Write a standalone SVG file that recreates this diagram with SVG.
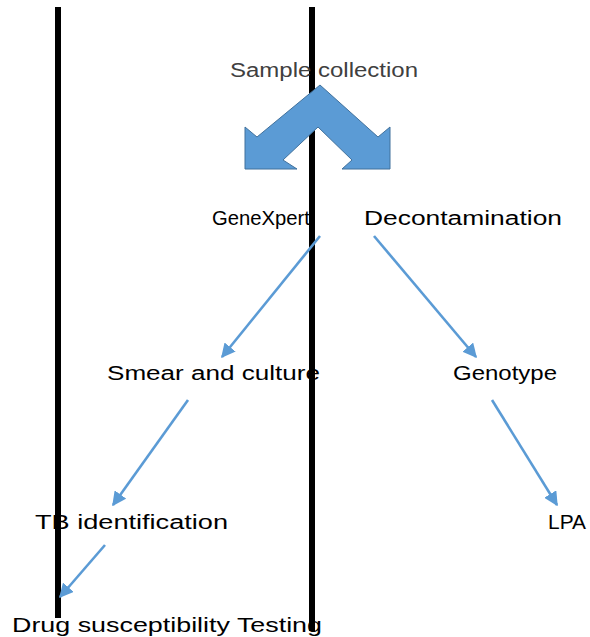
<svg xmlns="http://www.w3.org/2000/svg" width="590" height="637" viewBox="0 0 590 637">
<defs>
<marker id="ah" viewBox="0 0 10 10" refX="9" refY="5" markerWidth="5.5" markerHeight="5.5" orient="auto" markerUnits="strokeWidth">
<path d="M0,0 L10,5 L0,10 z" fill="#5B9BD5"/>
</marker>
<style>
.lbl{font-family:"Liberation Sans",Arial,sans-serif;font-size:20px;fill:#000;}
.top{fill:#404040;}
.conn{stroke:#5B9BD5;stroke-width:2.6;fill:none;marker-end:url(#ah);}
.bar{fill:#000;}
</style>
</defs>
<rect width="590" height="637" fill="#fff"/>
<g id="bars">
<rect class="bar" x="55" y="7" width="6" height="611"/>
<rect class="bar" x="309" y="7" width="6" height="624"/>
</g>
<g id="sample-collection">
<path d="M320,85 L378,137 L390,127 L390,169 L342,169 L352,160 L318,127 L283,160 L297,169 L245,169 L245,127 L257,137 Z" fill="#5B9BD5" stroke="#41719C" stroke-width="1"/>
<text class="lbl top" x="230" y="77" textLength="188" lengthAdjust="spacingAndGlyphs">Sample collection</text>
</g>
<g id="genexpert"><text class="lbl" x="212" y="225" textLength="98" lengthAdjust="spacingAndGlyphs">GeneXpert</text></g>
<g id="decontamination"><text class="lbl" x="364" y="225" textLength="198" lengthAdjust="spacingAndGlyphs">Decontamination</text></g>
<g id="smear-culture"><text class="lbl" x="107" y="380" textLength="213" lengthAdjust="spacingAndGlyphs">Smear and culture</text></g>
<g id="genotype"><text class="lbl" x="453" y="380" textLength="104" lengthAdjust="spacingAndGlyphs">Genotype</text></g>
<g id="tb-identification"><text class="lbl" x="35" y="529" textLength="193" lengthAdjust="spacingAndGlyphs">TB identification</text></g>
<g id="lpa"><text class="lbl" x="548" y="529" textLength="38" lengthAdjust="spacingAndGlyphs">LPA</text></g>
<g id="dst"><text class="lbl" x="12" y="632" textLength="310" lengthAdjust="spacingAndGlyphs">Drug susceptibility Testing</text></g>
<g id="connectors">
<line class="conn" x1="320" y1="236" x2="222" y2="357"/>
<line class="conn" x1="374" y1="236" x2="476" y2="357"/>
<line class="conn" x1="188" y1="400" x2="113" y2="505"/>
<line class="conn" x1="492" y1="400" x2="557" y2="505"/>
<line class="conn" x1="105" y1="545" x2="60" y2="597"/>
</g>
</svg>
